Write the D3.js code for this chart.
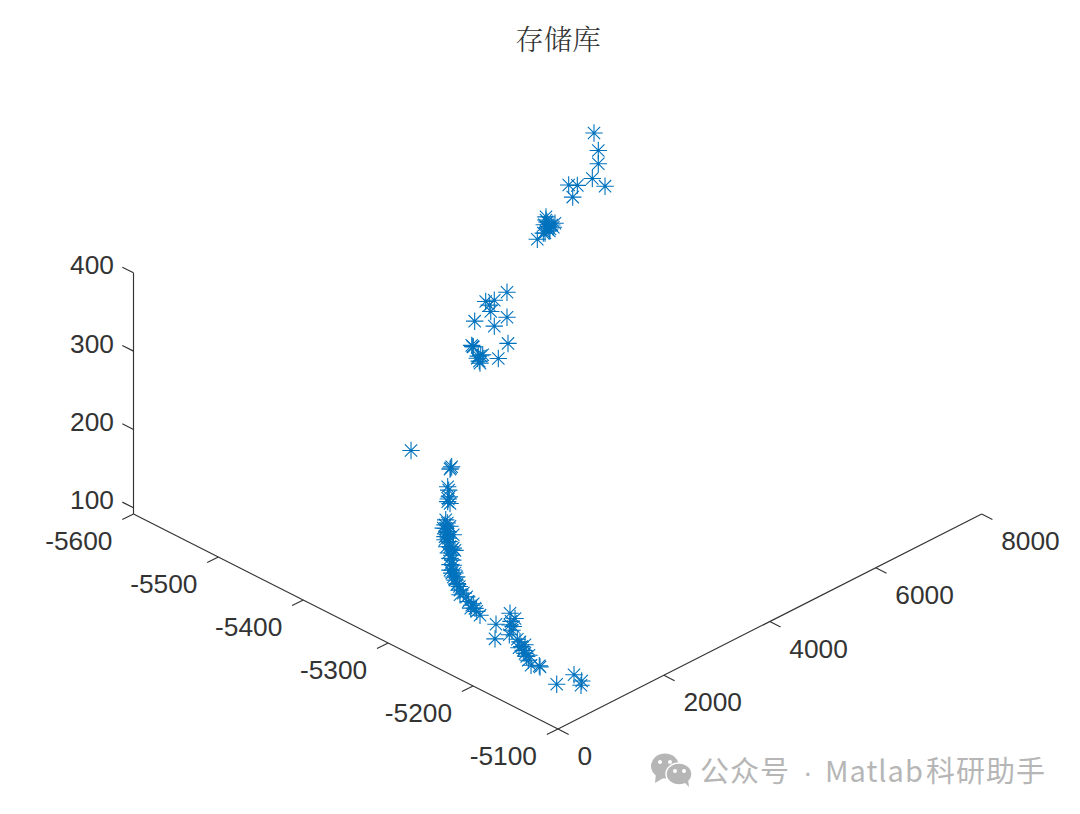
<!DOCTYPE html>
<html><head><meta charset="utf-8">
<script src="https://cdn.jsdelivr.net/npm/d3@7/dist/d3.min.js"></script>
<style>html,body{margin:0;padding:0;background:#fff;overflow:hidden}svg{display:block}</style>
</head><body><svg id="c" width="1080" height="814"></svg>
<script>
const chartTitle = "存储库";
const watermarkParts = ["公众号","·","Matlab","科研助手"];
const xTicks = [0,2000,4000,6000,8000];
const yTicks = [-5600,-5500,-5400,-5300,-5200,-5100];
const zTicks = [100,200,300,400];

// Archive points (depth along y is estimated per cluster)
const yLevels = [-5500,-5450,-5400,-5300,-5250,-5180,-5120];
const xA = [7092,7173,7173,7060,7300,6614,6777,6690];
const zA = [390,365,348,333,315,340,334,322];
const xB = [5220,5384,5384,5352,5428,5522,5365,5447,5492,5333,5397,5554,5403,5460];
const zB = [346,369,365,360,355,351,349,349,355,350,354,355,362,351];
const xC = [3846,3444,3606,3539,3846,3236,3606,3865,3682,3199,3180,3210,3304,3387,3285,3336,3323,3350,3512];
const zC = [353,355,351,339,321,337,318,287,274,306,308,305,290,289,288,280,283,289,348];
const xD = [431,1180,1167,1199,1123,1142,1135,1123,1154,1167,1086,1072,1086,1105,1116,1135,1229,1148,1167,1199,1229,1040,1167,1116,1072,1135,1072,1105,1135,1199,1167,1261];
const zD = [323,275,274,276,253,248,237,234,239,230,212,206,201,196,192,187,188,182,175,170,171,203,201,207,191,195,187,177,168,163,160,167];
const xE = [416,365,428,365,428,397,460,428,492,460,503,541,492,554,617,554,681,711,775,837,870,932,805,756];
const zE = [211,207,204,200,198,195,193,189,187,184,178,173,177,168,162,162,155,148,141,135,130,123,142,138];
const xF = [376,471,395,376,438,112,93,363,414,514,565,597,627,659,691,722,773,943,929,659,546,735];
const zF = [183,173,172,168,164,178,160,156,160,145,140,133,127,122,117,111,103,95,97,133,133,117];
const xG = [296,623,768,755];
const zG = [128,129,116,111];
const clusters = [[xA,zA],[xB,zB],[xC,zC],[xD,zD],[xE,zE],[xF,zF],[xG,zG]];
const points = clusters.flatMap(([xs,zs],i)=>xs.map((x,j)=>({x,y:yLevels[i],z:zs[j]})));

// Oblique projection of the 3-D box, each data axis gets two screen scales
const origin = {px:558, py:729};
const xToPx = d3.scaleLinear().domain([0,8000]).range([0,423.7]);
const xToPy = d3.scaleLinear().domain([0,8000]).range([0,-215]);
const yToPx = d3.scaleLinear().domain([-5100,-5600]).range([0,-424.5]);
const yToPy = d3.scaleLinear().domain([-5100,-5600]).range([0,-215]);
const zToPy = d3.scaleLinear().domain([92,400]).range([0,-241.2]);
const project = (x,y,z)=>[origin.px+xToPx(x)+yToPx(y), origin.py+xToPy(x)+yToPy(y)+zToPy(z)];

const ink = "#333333", blue = "#0072BD";
const numFont = "'Liberation Sans',Arial,sans-serif";
const cjkFont = "'Noto Serif CJK SC','Noto Sans CJK SC',sans-serif";
const svg = d3.select("#c");
const axes = svg.append("g").attr("fill","none").attr("stroke",ink).attr("stroke-width",1.15);
const seg = (a,b)=>axes.append("line").attr("x1",a[0]).attr("y1",a[1]).attr("x2",b[0]).attr("y2",b[1]);

seg(project(0,-5100,92),project(8000,-5100,92));
seg(project(0,-5100,92),project(0,-5600,92));
seg(project(0,-5600,92),project(0,-5600,400));

const label = (p,txt,anchor)=>svg.append("text").attr("x",p[0]).attr("y",p[1])
  .attr("text-anchor",anchor).attr("dominant-baseline","central")
  .attr("font-family",numFont).attr("font-size",26.3).attr("fill",ink).text(txt);

const xTick=[10.7,5.6], yTick=[-11.2,5.6], zTick=[-11.2,-5.6];
xTicks.forEach(v=>{const p=project(v,-5100,92);
  seg(p,[p[0]+xTick[0],p[1]+xTick[1]]);
  label([p[0]+19.5,p[1]+27],v,"start");});
yTicks.forEach(v=>{const p=project(0,v,92);
  seg(p,[p[0]+yTick[0],p[1]+yTick[1]]);
  label([p[0]-21,p[1]+27],v,"end");});
zTicks.forEach(v=>{const p=project(0,-5600,v);
  seg(p,[p[0]+zTick[0],p[1]+zTick[1]]);
  label([p[0]-19.5,p[1]-7.5],v,"end");});

// MATLAB style eight-arm asterisk
const star = {draw(ctx,size){const r=Math.sqrt(size),d=r*Math.SQRT1_2;
  ctx.moveTo(-r,0);ctx.lineTo(r,0);ctx.moveTo(0,-r);ctx.lineTo(0,r);
  ctx.moveTo(-d,-d);ctx.lineTo(d,d);ctx.moveTo(-d,d);ctx.lineTo(d,-d);}};
svg.append("g").selectAll("path").data(points).join("path")
  .attr("d",d3.symbol().type(star).size(76))
  .attr("transform",d=>{const p=project(d.x,d.y,d.z);return `translate(${p[0]},${p[1]})`;})
  .attr("fill","none").attr("stroke",blue).attr("stroke-width",1.1);

svg.append("text").attr("x",558).attr("y",37).attr("text-anchor","middle").attr("dominant-baseline","central")
  .attr("font-family",cjkFont).attr("font-size",28.5).attr("font-weight",300).attr("fill",ink).text(chartTitle);

// watermark
const wm = svg.append("g");
const grey="#b6b6b6";
wm.append("ellipse").attr("cx",665).attr("cy",766).attr("rx",14).attr("ry",12.5).attr("fill",grey);
wm.append("path").attr("d","M656 773 L655 783 L665 777 Z").attr("fill",grey);
wm.append("ellipse").attr("cx",679).attr("cy",774).attr("rx",13).attr("ry",11).attr("fill",grey).attr("stroke","#fff").attr("stroke-width",1.5);
wm.append("path").attr("d","M684 782 L689 787 L688 779 Z").attr("fill",grey);
[[660,762],[670,762],[675,771],[684,771]].forEach(([cx,cy])=>wm.append("circle").attr("cx",cx).attr("cy",cy).attr("r",2).attr("fill","#fff"));
const wmText = svg.append("text").attr("y",782).attr("font-family","'Noto Sans CJK SC',sans-serif")
  .attr("font-size",29).attr("letter-spacing",1).attr("fill",grey);
const wmStarts = [700,803,825,926];
watermarkParts.forEach((t,i)=>wmText.append("tspan").attr("x",wmStarts[i])
  .attr("font-family",i===1?numFont:null).text(t));
</script></body></html>
